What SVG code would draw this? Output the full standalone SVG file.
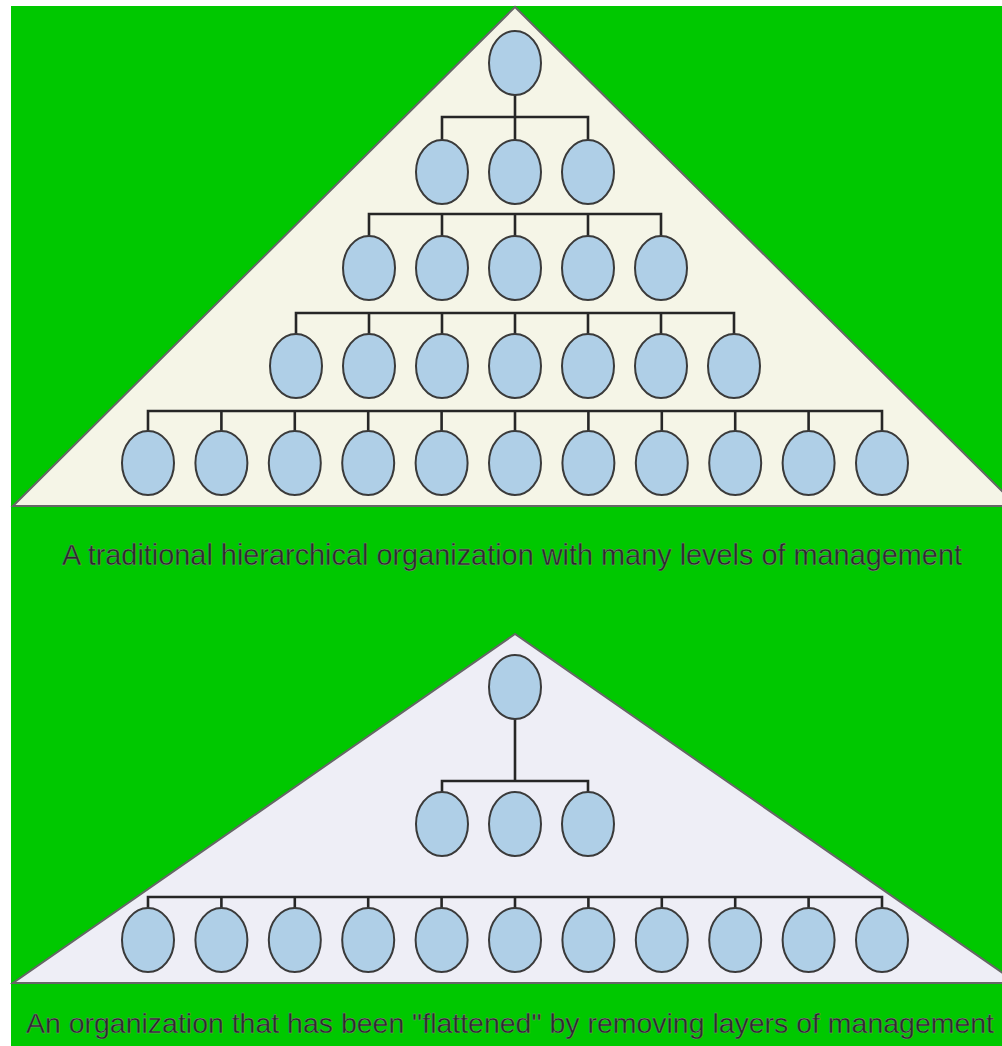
<svg xmlns="http://www.w3.org/2000/svg" width="1002" height="1046" viewBox="0 0 1002 1046">
<style>
.tri{stroke:#666;stroke-width:2}
.n{fill:#AFCFE7;stroke:#3a3a3a;stroke-width:2}
.c{stroke:#262626;stroke-width:2.6;fill:none}
.cap{font-family:"Liberation Sans",Arial,sans-serif;font-size:30px;fill:#2b2b2b;stroke:#8a8a8a;stroke-width:0.4}
.cap2{font-size:28px}
</style>
<rect x="0" y="0" width="1002" height="1046" fill="#ffffff"/>
<rect x="11" y="6" width="991" height="1040" fill="#00C800"/>
<g id="pyramid-top">
<polygon class="tri" points="515,7 13,506 1017,506" fill="#F5F5E7"/>
</g>
<g id="pyramid-bottom">
<polygon class="tri" points="515,634 13,983 1017,983" fill="#EEEEF6"/>
</g>
<g id="connectors">
<path class="c" d="M515,95V117M442,141V117H588V141M515,117V141"/>
<path class="c" d="M369,237V214H661V237M442,214V237M515,214V237M588,214V237"/>
<path class="c" d="M296,335V313H734V335M369,313V335M442,313V335M515,313V335M588,313V335M661,313V335"/>
<path class="c" d="M148,432V411H882V432M221.4,411V432M294.8,411V432M368.2,411V432M441.6,411V432M515,411V432M588.4,411V432M661.8,411V432M735.2,411V432M808.6,411V432"/>
<path class="c" d="M515,719V781M442,793V781H588V793"/>
<path class="c" d="M148,909V897H882V909M221.4,897V909M294.8,897V909M368.2,897V909M441.6,897V909M515,897V909M588.4,897V909M661.8,897V909M735.2,897V909M808.6,897V909"/>
</g>
<g id="t1-1"><ellipse class="n" cx="515" cy="63" rx="26" ry="32"/></g>
<g id="t2-1"><ellipse class="n" cx="442" cy="172" rx="26" ry="32"/></g>
<g id="t2-2"><ellipse class="n" cx="515" cy="172" rx="26" ry="32"/></g>
<g id="t2-3"><ellipse class="n" cx="588" cy="172" rx="26" ry="32"/></g>
<g id="t3-1"><ellipse class="n" cx="369" cy="268" rx="26" ry="32"/></g>
<g id="t3-2"><ellipse class="n" cx="442" cy="268" rx="26" ry="32"/></g>
<g id="t3-3"><ellipse class="n" cx="515" cy="268" rx="26" ry="32"/></g>
<g id="t3-4"><ellipse class="n" cx="588" cy="268" rx="26" ry="32"/></g>
<g id="t3-5"><ellipse class="n" cx="661" cy="268" rx="26" ry="32"/></g>
<g id="t4-1"><ellipse class="n" cx="296" cy="366" rx="26" ry="32"/></g>
<g id="t4-2"><ellipse class="n" cx="369" cy="366" rx="26" ry="32"/></g>
<g id="t4-3"><ellipse class="n" cx="442" cy="366" rx="26" ry="32"/></g>
<g id="t4-4"><ellipse class="n" cx="515" cy="366" rx="26" ry="32"/></g>
<g id="t4-5"><ellipse class="n" cx="588" cy="366" rx="26" ry="32"/></g>
<g id="t4-6"><ellipse class="n" cx="661" cy="366" rx="26" ry="32"/></g>
<g id="t4-7"><ellipse class="n" cx="734" cy="366" rx="26" ry="32"/></g>
<g id="t5-1"><ellipse class="n" cx="148" cy="463" rx="26" ry="32"/></g>
<g id="t5-2"><ellipse class="n" cx="221.4" cy="463" rx="26" ry="32"/></g>
<g id="t5-3"><ellipse class="n" cx="294.8" cy="463" rx="26" ry="32"/></g>
<g id="t5-4"><ellipse class="n" cx="368.2" cy="463" rx="26" ry="32"/></g>
<g id="t5-5"><ellipse class="n" cx="441.6" cy="463" rx="26" ry="32"/></g>
<g id="t5-6"><ellipse class="n" cx="515" cy="463" rx="26" ry="32"/></g>
<g id="t5-7"><ellipse class="n" cx="588.4" cy="463" rx="26" ry="32"/></g>
<g id="t5-8"><ellipse class="n" cx="661.8" cy="463" rx="26" ry="32"/></g>
<g id="t5-9"><ellipse class="n" cx="735.2" cy="463" rx="26" ry="32"/></g>
<g id="t5-10"><ellipse class="n" cx="808.6" cy="463" rx="26" ry="32"/></g>
<g id="t5-11"><ellipse class="n" cx="882" cy="463" rx="26" ry="32"/></g>
<g id="b1-1"><ellipse class="n" cx="515" cy="687" rx="26" ry="32"/></g>
<g id="b2-1"><ellipse class="n" cx="442" cy="824" rx="26" ry="32"/></g>
<g id="b2-2"><ellipse class="n" cx="515" cy="824" rx="26" ry="32"/></g>
<g id="b2-3"><ellipse class="n" cx="588" cy="824" rx="26" ry="32"/></g>
<g id="b3-1"><ellipse class="n" cx="148" cy="940" rx="26" ry="32"/></g>
<g id="b3-2"><ellipse class="n" cx="221.4" cy="940" rx="26" ry="32"/></g>
<g id="b3-3"><ellipse class="n" cx="294.8" cy="940" rx="26" ry="32"/></g>
<g id="b3-4"><ellipse class="n" cx="368.2" cy="940" rx="26" ry="32"/></g>
<g id="b3-5"><ellipse class="n" cx="441.6" cy="940" rx="26" ry="32"/></g>
<g id="b3-6"><ellipse class="n" cx="515" cy="940" rx="26" ry="32"/></g>
<g id="b3-7"><ellipse class="n" cx="588.4" cy="940" rx="26" ry="32"/></g>
<g id="b3-8"><ellipse class="n" cx="661.8" cy="940" rx="26" ry="32"/></g>
<g id="b3-9"><ellipse class="n" cx="735.2" cy="940" rx="26" ry="32"/></g>
<g id="b3-10"><ellipse class="n" cx="808.6" cy="940" rx="26" ry="32"/></g>
<g id="b3-11"><ellipse class="n" cx="882" cy="940" rx="26" ry="32"/></g>
<text class="cap" x="62" y="565" textLength="900" lengthAdjust="spacingAndGlyphs">A traditional hierarchical organization with many levels of management</text>
<text class="cap cap2" x="26" y="1033" textLength="968" lengthAdjust="spacingAndGlyphs">An organization that has been "flattened" by removing layers of management</text>
</svg>
